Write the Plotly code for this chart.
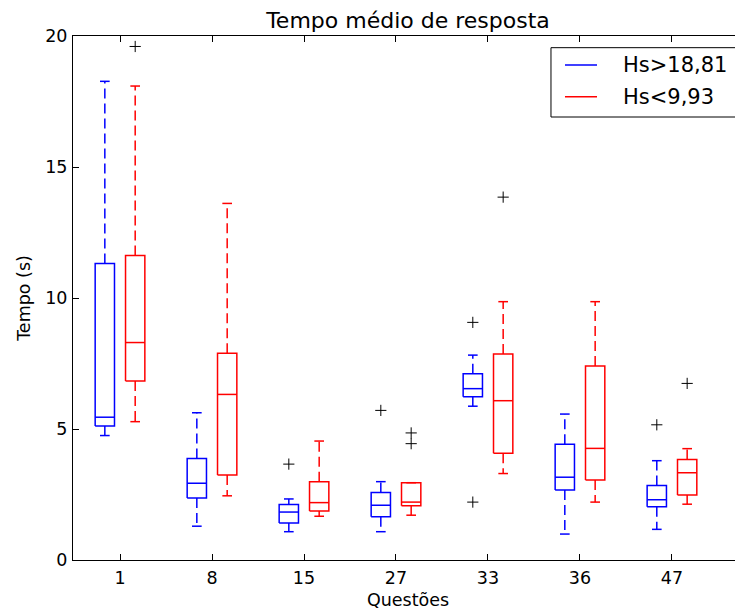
import plotly.graph_objects as go

# ---------------- data ----------------
questions = ['1', '8', '15', '27', '33', '36', '47']
series_names = ['Hs>18,81', 'Hs<9,93']

# Hs>18,81 (blue)
blue_whislo = [4.75, 1.29, 1.08, 1.08, 5.87, 0.99, 1.17]
blue_q1 = [5.11, 2.37, 1.41, 1.65, 6.23, 2.67, 2.03]
blue_med = [5.45, 2.93, 1.83, 2.09, 6.54, 3.16, 2.30]
blue_q3 = [11.32, 3.87, 2.12, 2.58, 7.11, 4.42, 2.84]
blue_whishi = [18.27, 5.62, 2.33, 2.99, 7.82, 5.57, 3.79]
blue_fliers = [[], [], [3.66], [5.71], [9.07, 2.21], [], [5.16]]

# Hs<9,93 (red)
red_whislo = [5.28, 2.45, 1.67, 1.71, 3.30, 2.21, 2.13]
red_q1 = [6.83, 3.24, 1.87, 2.07, 4.07, 3.05, 2.48]
red_med = [8.30, 6.32, 2.19, 2.21, 6.08, 4.26, 3.33]
red_q3 = [11.62, 7.89, 2.99, 2.95, 7.86, 7.40, 3.84]
red_whishi = [18.09, 13.61, 4.54, 2.95, 9.86, 9.86, 4.25]
red_fliers = [[19.6], [], [], [4.85, 4.44], [13.85], [], [6.74]]

# ---------------- styling ----------------
FONT = 'DejaVu Sans'
BLUE = '#0000ff'
RED = '#ff0000'
BOX_W = 0.21
OFFSET = 0.165
LW = 1.5
# the page body has an 8px margin; the figure is sized to fill the rest
W, H = 735, 605

fig = go.Figure()


def add_boxes(offset, lo, q1, med, q3, hi, fliers, color, name):
    pos = [i + 1 + offset for i in range(len(questions))]
    h = BOX_W / 2
    c = BOX_W / 4
    bx, by, wx, wy, cx, cy, ox, oy = [], [], [], [], [], [], [], []
    for p, a, b, m, d, e, fl in zip(pos, lo, q1, med, q3, hi, fliers):
        bx += [p - h, p + h, p + h, p - h, p - h, None]
        by += [b, b, d, d, b, None]
        bx += [p - h, p + h, None]
        by += [m, m, None]
        wx += [p, p, None, p, p, None]
        wy += [d, e, None, b, a, None]
        cx += [p - c, p + c, None, p - c, p + c, None]
        cy += [e, e, None, a, a, None]
        for v in fl:
            ox.append(p)
            oy.append(v)
    fig.add_trace(go.Scatter(x=bx, y=by, mode='lines', name=name,
                             line=dict(color=color, width=LW),
                             showlegend=False, hoverinfo='skip'))
    fig.add_trace(go.Scatter(x=wx, y=wy, mode='lines',
                             line=dict(color=color, width=LW, dash='10px,5px'),
                             showlegend=False, hoverinfo='skip'))
    fig.add_trace(go.Scatter(x=cx, y=cy, mode='lines',
                             line=dict(color=color, width=LW),
                             showlegend=False, hoverinfo='skip'))
    fig.add_trace(go.Scatter(x=ox, y=oy, mode='markers',
                             marker=dict(symbol='cross-thin', size=8,
                                         line=dict(color='black', width=1)),
                             showlegend=False, hoverinfo='skip'))


add_boxes(-OFFSET, blue_whislo, blue_q1, blue_med, blue_q3, blue_whishi,
          blue_fliers, BLUE, series_names[0])
add_boxes(OFFSET, red_whislo, red_q1, red_med, red_q3, red_whishi,
          red_fliers, RED, series_names[1])

# empty trace so the right-hand tick axis is drawn
fig.add_trace(go.Scatter(x=[], y=[], yaxis='y2', showlegend=False,
                         hoverinfo='skip'))

# ---------------- manual legend (matplotlib-like box) ----------------
shapes = [
    dict(type='rect', xref='paper', yref='paper', x0=0.7134, x1=0.9925,
         y0=0.8454, y1=0.9777, line=dict(color='black', width=1),
         fillcolor='white', layer='above'),
]
annotations = []
rows_y = [0.9447, 0.8842]
for yy, nm, col in zip(rows_y, series_names, [BLUE, RED]):
    shapes.append(dict(type='line', xref='paper', yref='paper',
                       x0=0.7343, x1=0.7821, y0=yy, y1=yy,
                       line=dict(color=col, width=LW), layer='above'))
    annotations.append(dict(xref='paper', yref='paper', x=0.8179, y=yy,
                            text=nm, showarrow=False, xanchor='left',
                            yanchor='middle',
                            font=dict(family=FONT, size=21, color='black')))

axis_common = dict(showgrid=False, zeroline=False, showline=True,
                   linecolor='black', linewidth=1, ticks='inside',
                   ticklen=6, tickcolor='black', tickwidth=1,
                   tickfont=dict(family=FONT, size=17.5, color='black'),
                   automargin=False)

fig.update_layout(
    template='none',
    width=W, height=H,
    margin=dict(l=65, r=0, t=28, b=53),
    paper_bgcolor='white', plot_bgcolor='white',
    showlegend=False,
    title=dict(text='Tempo médio de resposta', x=0.5, xref='paper',
               xanchor='center', y=1 - 12 / H, yref='container',
               yanchor='middle',
               font=dict(family=FONT, size=22, color='black')),
    xaxis=dict(range=[0.489, 7.772], tickmode='array',
               tickvals=list(range(1, len(questions) + 1)),
               ticktext=questions, mirror='ticks', ticklabelstandoff=2,
               title=dict(text='Questões', standoff=6,
                          font=dict(family=FONT, size=17.5, color='black')),
               **axis_common),
    yaxis=dict(range=[0, 20], tickmode='linear', tick0=0, dtick=5,
               ticklabelstandoff=1,
               title=dict(text='Tempo (s)', standoff=10,
                          font=dict(family=FONT, size=17.5, color='black')),
               **axis_common),
    yaxis2=dict(overlaying='y', side='right', range=[0, 20],
                tickmode='linear', tick0=0, dtick=5, ticks='inside',
                ticklen=2, tickcolor='black', tickwidth=1,
                showticklabels=False, showline=False, showgrid=False,
                zeroline=False, automargin=False),
    shapes=shapes,
    annotations=annotations,
)

fig.write_html('out.html')
